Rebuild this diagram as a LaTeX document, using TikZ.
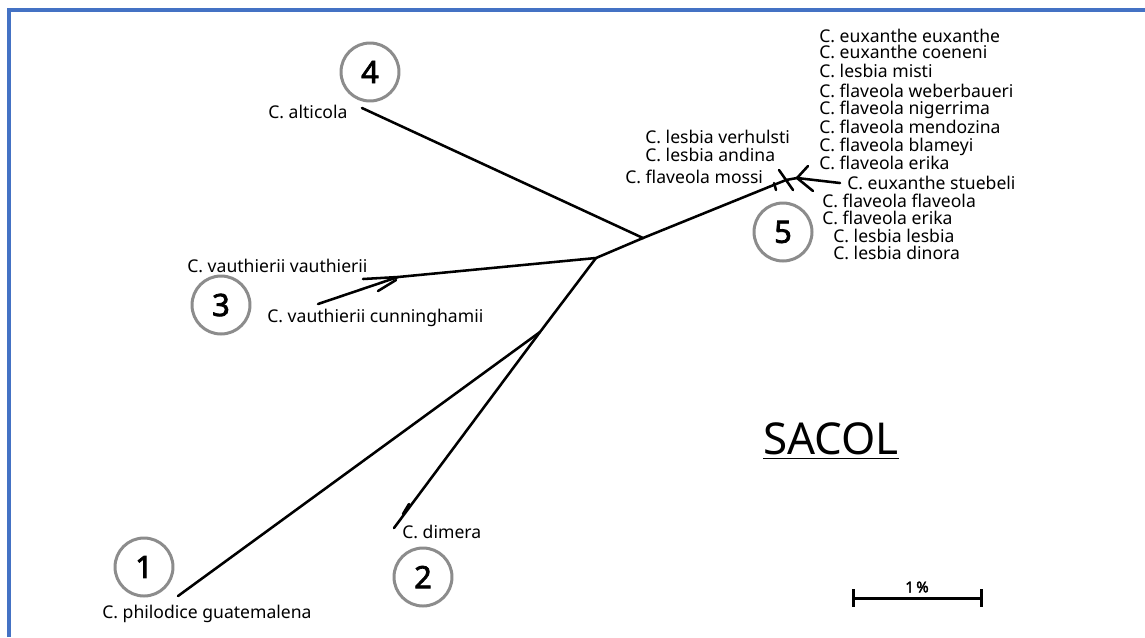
\documentclass[tikz,border=0pt]{standalone}
\usepackage{fontspec}
\setmainfont{Noto Sans}
\newfontfamily\heavysans{Noto Sans}[FakeBold=2.5]
\definecolor{framebl}{RGB}{68,114,196}
\definecolor{ringgray}{RGB}{140,140,140}
\begin{document}
\begin{tikzpicture}[x=0.02cm,y=-0.02cm,
    branch/.style={line width=1.45pt, line cap=round},
    taxon/.style={anchor=base west, inner sep=0pt, font=\fontsize{10}{12}\selectfont},
    clade/.style={circle, draw=ringgray, line width=1.7pt, minimum size=1.16cm, inner sep=0pt,
      font=\fontsize{17.5}{20}\heavysans}]
  \useasboundingbox (0,0) rectangle (1145,637);
  \fill[white] (0,0) rectangle (1145,637);
  % frame
  \draw[framebl, line width=0.08cm] (9,637) -- (9,10) -- (1145,10);

  % inner nodes of the tree
  \coordinate (c1) at (643,238);
  \coordinate (c2) at (596,258);
  \coordinate (c3) at (540,332);
  \coordinate (vau) at (398,277);
  \coordinate (fl1) at (786,180);
  \coordinate (fl2) at (797,178);
  % tips
  \coordinate (t-alt) at (362,108);
  \coordinate (t-vv) at (363,279);
  \coordinate (t-vc) at (318,304);
  \coordinate (t-dim) at (394,528);
  \coordinate (t-phi) at (178,596);
  \coordinate (t-stu) at (840,183);
  \coordinate (tw1a) at (378,291);
  \coordinate (tw1b) at (396,280);
  \coordinate (tw2a) at (403,514);
  \coordinate (tw2b) at (409,504);
  \coordinate (tw3a) at (774,183);
  \coordinate (tw3b) at (776,190);
  \coordinate (tw4) at (779,170);
  \coordinate (tw5) at (793,190);
  \coordinate (tw6) at (808,166);
  \coordinate (tw7) at (813,191);

  % branches
  \draw[branch] (t-alt) -- (c1) -- (fl1) -- (fl2) -- (t-stu);
  \draw[branch] (c1) -- (c2) -- (vau) -- (t-vv);
  \draw[branch] (vau) -- (t-vc);
  \draw[branch] (tw1a) -- (tw1b);
  \draw[branch] (c2) -- (c3) -- (t-phi);
  \draw[branch] (c3) -- (t-dim);
  \draw[branch] (tw2a) -- (tw2b);
  \draw[branch] (tw3a) -- (tw3b);
  \draw[branch] (fl1) -- (tw4);
  \draw[branch] (fl1) -- (tw5);
  \draw[branch] (fl2) -- (tw6);
  \draw[branch] (fl2) -- (tw7);

  % taxa
  \node[taxon] (alt) at (268,118) {C. alticola};
  \node[taxon] (vv) at (187,272) {C. vauthierii vauthierii};
  \node[taxon] (vc) at (267,322) {C. vauthierii cunninghamii};
  \node[taxon] (dim) at (402,538) {C. dimera};
  \node[taxon] (phi) at (102,618) {C. philodice guatemalena};
  \node[taxon] (lver) at (645,143) {C. lesbia verhulsti};
  \node[taxon] (land) at (645,161) {C. lesbia andina};
  \node[taxon] (fmos) at (625,183) {C. flaveola mossi};
  \node[taxon] (eeux) at (819,42) {C. euxanthe euxanthe};
  \node[taxon] (ecoe) at (819,58) {C. euxanthe coeneni};
  \node[taxon] (lmis) at (819,77) {C. lesbia misti};
  \node[taxon] (fweb) at (819,97) {C. flaveola weberbaueri};
  \node[taxon] (fnig) at (819,114) {C. flaveola nigerrima};
  \node[taxon] (fmen) at (819,133) {C. flaveola mendozina};
  \node[taxon] (fbla) at (819,151) {C. flaveola blameyi};
  \node[taxon] (feri) at (819,169) {C. flaveola erika};
  \node[taxon] (estu) at (847,189) {C. euxanthe stuebeli};
  \node[taxon] (ffla) at (822,207) {C. flaveola flaveola};
  \node[taxon] (feri2) at (822,224) {C. flaveola erika};
  \node[taxon] (lles) at (833,242) {C. lesbia lesbia};
  \node[taxon] (ldin) at (833,259) {C. lesbia dinora};

  % clade numbers
  \node[clade] (n1) at (144,567) {1};
  \node[clade] (n2) at (423,577) {2};
  \node[clade] (n3) at (221,305) {3};
  \node[clade] (n4) at (370,72) {4};
  \node[clade] (n5) at (783,232) {5};

  % title
  \node[font=\fontsize{25}{28}\selectfont, inner sep=0pt] (title) at (831,441) {\underline{SACOL}};

  % scale bar
  \coordinate (bar-l) at (853,598);
  \coordinate (bar-r) at (981,598);
  \draw[line width=1.7pt] (bar-l) -- (bar-r);
  \draw[line width=1.7pt] ([yshift=-5]bar-l) -- ([yshift=5]bar-l);
  \draw[line width=1.7pt] ([yshift=-5]bar-r) -- ([yshift=5]bar-r);
  \node[font=\fontsize{8.5}{10}\heavysans, inner sep=0pt] (bar-lab) at (917,587) {1\,\%};
\end{tikzpicture}
\end{document}
